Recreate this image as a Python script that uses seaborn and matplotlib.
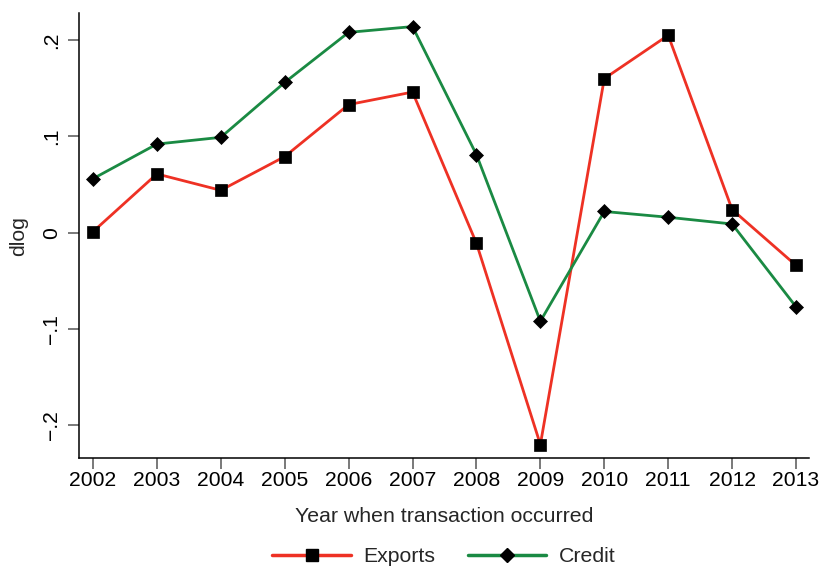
import matplotlib
matplotlib.use("Agg")
import matplotlib.pyplot as plt
from matplotlib.lines import Line2D
import seaborn as sns
import pandas as pd

years = [2002, 2003, 2004, 2005, 2006, 2007, 2008, 2009, 2010, 2011, 2012, 2013]
exports = [0.001, 0.061, 0.044, 0.079, 0.133, 0.146, -0.011, -0.220, 0.160, 0.205, 0.024, -0.034]
credit = [0.056, 0.092, 0.099, 0.156, 0.208, 0.214, 0.081, -0.092, 0.022, 0.016, 0.009, -0.077]

series_names = ["Exports", "Credit"]
ytick_values = [-0.2, -0.1, 0.0, 0.1, 0.2]
ytick_labels = ["\u2212.2", "\u2212.1", "0", ".1", ".2"]

sns.set_style("ticks")
plt.rcParams["font.family"] = ["Liberation Sans", "DejaVu Sans"]

fig = plt.figure(figsize=(8.19, 5.66), dpi=100)
ax = fig.add_axes([0.0968, 0.1903, 0.8910, 0.7862])

df_exp = pd.DataFrame({"year": years, "dlog": exports})
df_cre = pd.DataFrame({"year": years, "dlog": credit})

red = "#ee3124"
green = "#1a8a43"
sq_size = 8.2
dm_size = 7.4

sns.lineplot(data=df_exp, x="year", y="dlog", ax=ax, color=red, linewidth=2.0,
             marker="s", markersize=sq_size, markerfacecolor="black",
             markeredgecolor="black", markeredgewidth=0.5)
sns.lineplot(data=df_cre, x="year", y="dlog", ax=ax, color=green, linewidth=2.0,
             marker="D", markersize=dm_size, markerfacecolor="black",
             markeredgecolor="black", markeredgewidth=0.5)

ax.set_xlim(2001.786, 2013.203)
ax.set_ylim(-0.2343, 0.2278)
ax.set_xticks(years)
ax.set_xticklabels([str(y) for y in years], fontsize=15.2)
ax.set_yticks(ytick_values)
ax.set_yticklabels(ytick_labels, fontsize=15.2, rotation=90, va="center")

for side in ["top", "right"]:
    ax.spines[side].set_visible(False)
for side in ["left", "bottom"]:
    ax.spines[side].set_color("black")
    ax.spines[side].set_linewidth(1.1)

ax.tick_params(axis="both", direction="out", length=8, width=1.1,
               color="#555555", labelcolor="black")
ax.tick_params(axis="x", pad=1.5)
ax.tick_params(axis="y", pad=5)

ax.set_xlabel("Year when transaction occurred", fontsize=15.3, labelpad=12)
ax.set_ylabel("dlog", fontsize=15.3, labelpad=10)

handles = [
    Line2D([], [], color=red, linewidth=2.5, marker="s", markersize=sq_size,
           markerfacecolor="black", markeredgecolor="black"),
    Line2D([], [], color=green, linewidth=2.5, marker="D", markersize=dm_size,
           markerfacecolor="black", markeredgecolor="black"),
]
fig.legend(handles, series_names, loc="center", bbox_to_anchor=(444 / 819, 1 - 557 / 566),
           ncol=2, frameon=False, fontsize=15.3, handlelength=3.7,
           handletextpad=0.6, columnspacing=1.5)

fig.savefig("out.png", dpi=100, facecolor="white")
